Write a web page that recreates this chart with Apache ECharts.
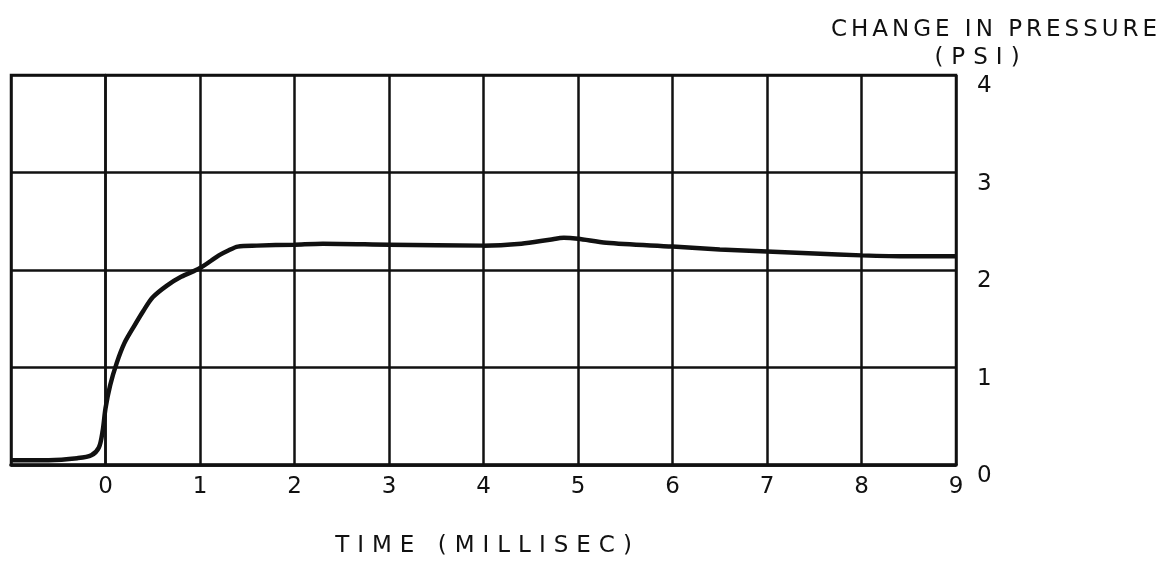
<!DOCTYPE html>
<html>
<head>
<meta charset="utf-8">
<script src="https://cdn.jsdelivr.net/npm/echarts@6/dist/echarts.min.js"></script>
<style>
  html, body { margin: 0; padding: 0; background: #fff; }
  #chart { width: 1173px; height: 587px; }
</style>
</head>
<body>
<div id="chart"></div>
<script>
// Pressure trace: time in milliseconds, change in pressure in psi
const timeMs = [-1, -0.6, -0.3, -0.15, -0.07, -0.03, 0, 0.05, 0.12, 0.2, 0.3, 0.4, 0.5, 0.65, 0.8,
                1.0, 1.2, 1.3, 1.4, 1.6, 2.0, 2.3, 3.0, 4.0, 4.4, 4.7, 4.85, 5.0, 5.3, 6.0, 6.5,
                7.0, 7.5, 8.0, 8.5, 9.0];
const pressurePsi = [0.05, 0.05, 0.07, 0.1, 0.18, 0.35, 0.58, 0.82, 1.05, 1.25, 1.42, 1.58, 1.72, 1.84, 1.93,
                     2.02, 2.15, 2.2, 2.24, 2.25, 2.26, 2.27, 2.26, 2.25, 2.27, 2.31, 2.33, 2.32, 2.28, 2.24, 2.21,
                     2.19, 2.17, 2.15, 2.14, 2.14];
const timeTicks = ['0', '1', '2', '3', '4', '5', '6', '7', '8', '9'];
const pressureTicks = ['0', '1', '2', '3', '4'];
const xTitle = 'TIME (MILLISEC)';
const yTitle = 'CHANGE IN PRESSURE';
const yUnit = '(PSI)';

const FONT = 'DejaVu Sans';
const INK = '#111';

// Hand-lettered look: each letter is its own rich-text token with side padding
function spaced(str, style) {
  return str.split('').map(c => '{' + style + '|' + c + '}').join('');
}

const chart = echarts.init(document.getElementById('chart'));
chart.setOption({
  animation: false,
  backgroundColor: '#fff',
  grid: {
    left: 11, right: 217, top: 75, bottom: 122,
    outerBoundsMode: 'none',
    containLabel: false,
    show: true, borderColor: INK, borderWidth: 2.5, backgroundColor: 'transparent'
  },
  xAxis: {
    type: 'value',
    min: -1, max: 9, interval: 1,
    name: spaced(xTitle, 'w'),
    nameLocation: 'middle',
    nameGap: 70,
    nameTextStyle: {
      fontFamily: FONT, fontSize: 23, color: INK,
      rich: { w: { fontFamily: FONT, fontSize: 23, color: INK, padding: [0, 4] } }
    },
    axisLine: { show: true, lineStyle: { color: INK, width: 3.5 } },
    axisTick: { show: false },
    splitLine: { show: true, lineStyle: { color: INK, width: 2.5 } },
    axisLabel: {
      margin: 11,
      fontFamily: FONT, fontSize: 23, color: INK,
      formatter: v => (v >= 0 ? timeTicks[v] : '')
    }
  },
  yAxis: {
    type: 'value',
    position: 'right',
    min: 0, max: 4, interval: 1,
    axisLine: { show: true, lineStyle: { color: INK, width: 2.5 } },
    axisTick: { show: false },
    splitLine: { show: true, lineStyle: { color: INK, width: 2.5 } },
    axisLabel: {
      margin: 21,
      verticalAlign: 'top',
      fontFamily: FONT, fontSize: 23, color: INK,
      formatter: v => pressureTicks[v]
    }
  },
  graphic: [
    {
      type: 'text', x: 994, y: 30,
      style: {
        text: spaced(yTitle, 't'),
        align: 'center', verticalAlign: 'middle',
        rich: { t: { fontFamily: FONT, fontSize: 23, fill: INK, padding: [0, 2] } }
      }
    },
    {
      type: 'text', x: 977, y: 58,
      style: {
        text: spaced(yUnit, 'u'),
        align: 'center', verticalAlign: 'middle',
        rich: { u: { fontFamily: FONT, fontSize: 23, fill: INK, padding: [0, 4] } }
      }
    }
  ],
  series: [{
    type: 'line',
    data: timeMs.map((t, i) => [t, pressurePsi[i]]),
    smooth: 0.3,
    showSymbol: false,
    lineStyle: { color: INK, width: 4.5 },
    z: 5
  }]
});
</script>
</body>
</html>
